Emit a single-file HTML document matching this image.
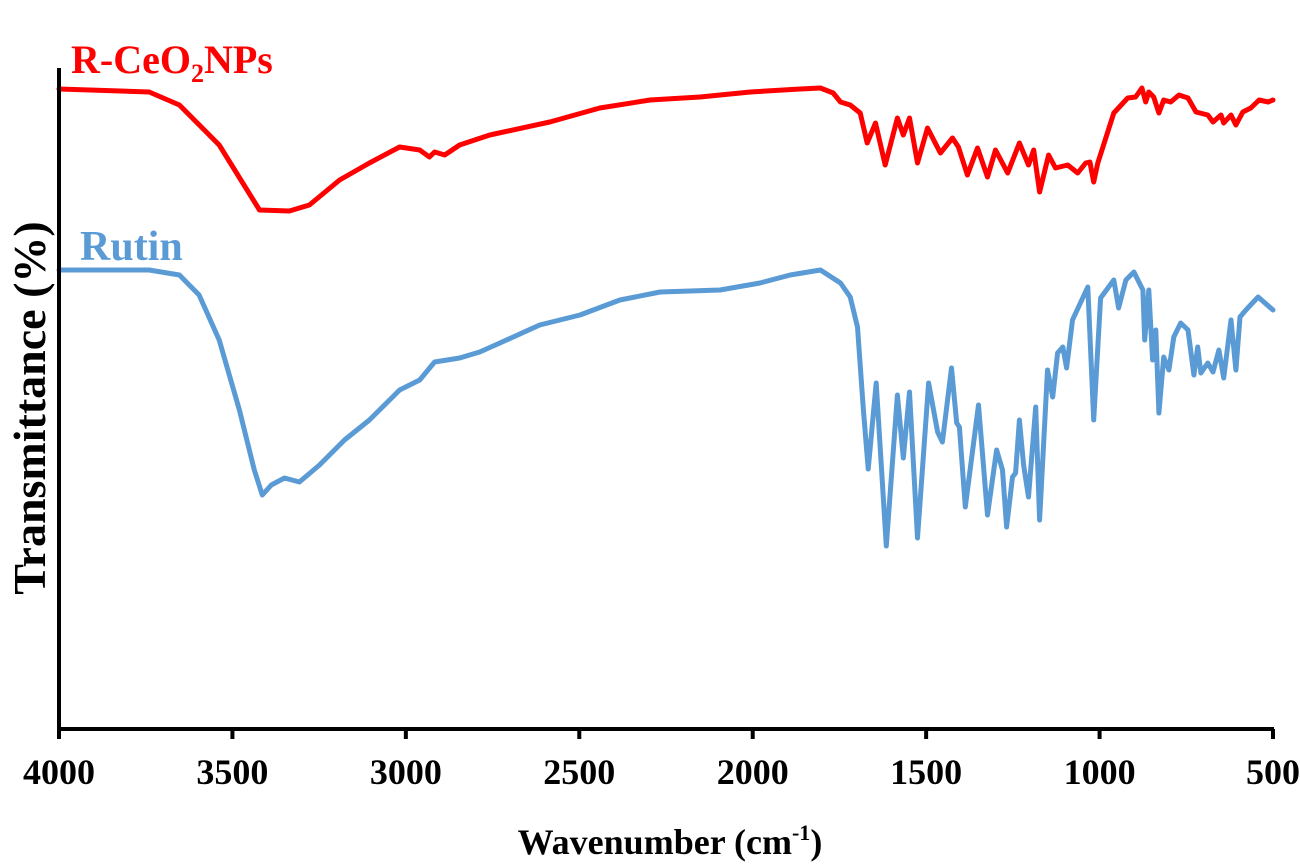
<!DOCTYPE html>
<html><head><meta charset="utf-8"><style>
html,body{margin:0;padding:0;background:#fff;}
svg{display:block;font-family:"Liberation Serif",serif;font-weight:bold;}
</style></head><body>
<svg id="chart" width="1300" height="866">
<g id="plot"></g>
<line x1="59" y1="68" x2="59" y2="731" stroke="#000" stroke-width="4"/>
<line x1="57" y1="729" x2="1274" y2="729" stroke="#000" stroke-width="4"/>
<g id="ticks"></g>
<text x="71" y="73" font-size="40" fill="#ff0000">R-CeO<tspan font-size="26" dy="9">2</tspan><tspan dy="-9">NPs</tspan></text>
<text x="80" y="260" font-size="42" fill="#5b9bd5">Rutin</text>
<text transform="translate(45,408) rotate(-90)" text-anchor="middle" font-size="46" fill="#000">Transmittance (%)</text>
<text x="670" y="854" text-anchor="middle" font-size="36" fill="#000">Wavenumber (cm<tspan font-size="22" dy="-14">-1</tspan><tspan dy="14">)</tspan></text>
</svg>
<script>
const xTicks = [4000,3500,3000,2500,2000,1500,1000,500];
const redW = [4000,3740,3653,3538,3422,3336,3278,3191,3105,3018,2960,2932,2917,2888,2845,2758,2585,2441,2296,2152,2007,1863,1805,1768,1747,1719,1690,1670,1646,1618,1583,1566,1548,1525,1496,1459,1424,1407,1381,1352,1323,1300,1265,1231,1205,1190,1173,1147,1127,1092,1063,1040,1028,1017,1005,959,919,896,878,867,858,844,829,815,795,771,745,722,688,673,650,642,621,607,587,564,540,514,500];
const redT = [639,636,623,583,518,517,523,548,565,581,578,571,576,573,583,593,606,620,628,631,636,639,640,635,626,623,615,585,605,563,610,593,610,565,600,575,590,581,553,580,551,578,555,585,563,578,536,573,560,563,555,565,566,546,565,615,630,631,640,626,636,631,615,628,626,633,630,616,613,606,613,605,613,603,616,620,628,626,628];
const blueW = [4000,3740,3653,3596,3538,3480,3437,3414,3388,3350,3307,3249,3177,3105,3018,2960,2917,2845,2787,2729,2614,2498,2383,2267,2094,1979,1892,1805,1747,1719,1698,1681,1667,1644,1615,1583,1566,1548,1525,1493,1467,1453,1427,1412,1404,1387,1349,1323,1297,1280,1268,1251,1242,1231,1219,1205,1184,1173,1150,1135,1121,1106,1095,1078,1034,1017,997,959,945,924,901,875,870,858,847,838,829,815,800,786,766,745,728,717,708,688,673,656,642,621,607,595,578,543,500];
const blueT = [458,458,453,433,388,318,258,233,243,250,246,263,288,308,338,348,366,370,376,385,403,413,428,436,438,445,453,458,445,431,401,318,259,345,182,333,270,336,190,345,296,286,360,305,301,221,323,213,278,258,201,251,255,308,263,231,321,208,358,331,375,381,360,408,441,308,430,448,420,448,456,438,388,438,368,398,315,371,358,391,405,398,353,381,355,365,356,378,350,408,358,411,418,431,418];

const NS='http://www.w3.org/2000/svg';
function xScale(w){return 59 + (4000-w)*(1214/3500);}
function yScale(t){return 728 - t;}
const plot=document.getElementById('plot');
function series(W,T,color,name){
  const n=Math.min(W.length,T.length);
  let d='';
  for(let i=0;i<n;i++){d+=(i?'L':'M')+xScale(W[i]).toFixed(1)+' '+yScale(T[i]).toFixed(1);}
  const p=document.createElementNS(NS,'path');
  p.setAttribute('d',d);p.setAttribute('fill','none');p.setAttribute('stroke',color);
  p.setAttribute('stroke-width','5');p.setAttribute('stroke-linejoin','round');p.setAttribute('stroke-linecap','round');
  
  
  plot.appendChild(p);
}
series(redW,redT,'#ff0000','r-ceo2nps-spectrum');
series(blueW,blueT,'#5b9bd5','rutin-spectrum');
const tg=document.getElementById('ticks');
xTicks.forEach(v=>{
  const x=xScale(v);
  const l=document.createElementNS(NS,'line');
  l.setAttribute('x1',x);l.setAttribute('x2',x);l.setAttribute('y1',729);l.setAttribute('y2',739);
  l.setAttribute('stroke','#000');l.setAttribute('stroke-width','4');
  
  
  tg.appendChild(l);
  const t=document.createElementNS(NS,'text');
  t.setAttribute('x',x);t.setAttribute('y',784);t.setAttribute('text-anchor','middle');t.setAttribute('font-size','36');
  t.textContent=v;
  
  
  tg.appendChild(t);
});
</script>
</body></html>
